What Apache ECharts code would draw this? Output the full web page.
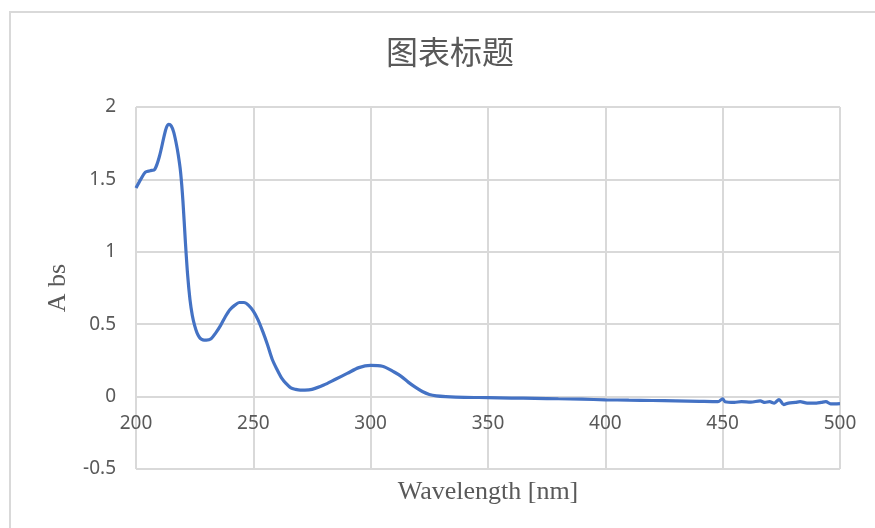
<!DOCTYPE html>
<html>
<head>
<meta charset="utf-8">
<script src="https://cdn.jsdelivr.net/npm/echarts@6/dist/echarts.min.js"></script>
<style>html,body{margin:0;padding:0;background:#fff;}#c{width:875px;height:528px;}</style>
</head>
<body>
<div id="c"></div>
<script>
var chartTitle = '图表标题';
var xName = 'Wavelength [nm]';
var yName = 'A bs';
var wavelengths = [200,202,204,206,208,210,212,213,214,215,216,217,218,219,220,221,222,223,224,225,226,227,228,229,230,232,234,236,238,240,242,244,246,248,250,252,254,256,258,260,262,264,266,268,270,272,275,280,285,290,295,300,305,310,313,316,319,322,325,328,332,340,350,360,370,380,390,400,410,420,430,440,448,450,451,455,458,462,466,468,470,472,474,476,478,481,483,486,490,492,494,496,500];
var absorbance = [1.44,1.50,1.55,1.56,1.57,1.66,1.80,1.86,1.88,1.87,1.83,1.76,1.67,1.55,1.35,1.08,0.84,0.67,0.56,0.49,0.44,0.41,0.395,0.39,0.39,0.40,0.44,0.49,0.55,0.60,0.63,0.65,0.65,0.63,0.59,0.53,0.45,0.36,0.26,0.19,0.13,0.09,0.06,0.05,0.045,0.045,0.05,0.08,0.12,0.16,0.20,0.215,0.21,0.17,0.14,0.10,0.065,0.035,0.015,0.005,0.0,-0.005,-0.007,-0.01,-0.012,-0.015,-0.018,-0.022,-0.025,-0.027,-0.03,-0.033,-0.035,-0.015,-0.035,-0.04,-0.035,-0.038,-0.03,-0.04,-0.035,-0.045,-0.02,-0.055,-0.045,-0.04,-0.035,-0.045,-0.045,-0.04,-0.035,-0.05,-0.048];

var seriesData = wavelengths.map(function (w, i) { return [w, absorbance[i]]; });

var chart = echarts.init(document.getElementById('c'));
chart.setOption({
  animation: false,
  backgroundColor: '#fff',
  title: {
    text: chartTitle,
    left: 381,
    top: 31,
    textStyle: { fontFamily: 'Noto Sans CJK SC', fontSize: 32, fontWeight: 'normal', color: '#595959' }
  },
  graphic: [
    { type: 'rect', shape: { x: 10, y: 12, width: 900, height: 600 }, style: { fill: 'none', stroke: '#d9d9d9', lineWidth: 2 }, silent: true, z: -1 },
    { type: 'text', x: 488, y: 492, style: { text: xName, font: '26px "Liberation Serif"', fill: '#595959', align: 'center', verticalAlign: 'middle' } }
  ],
  grid: { left: 136, right: 35, top: 107, bottom: 59 },
  xAxis: {
    type: 'value', min: 200, max: 500, interval: 50,
    offset: -72.4,
    axisLine: { show: true, onZero: false, lineStyle: { color: '#d9d9d9', width: 2 } },
    axisTick: { show: false },
    axisLabel: { color: '#595959', fontFamily: 'Noto Sans', fontSize: 19, margin: 17 },
    splitLine: { show: true, lineStyle: { color: '#d9d9d9', width: 2 } }
  },
  yAxis: {
    type: 'value', min: -0.5, max: 2, interval: 0.5,
    name: yName, nameLocation: 'middle', nameGap: 65, nameRotate: 90,
    nameTextStyle: { fontFamily: 'Liberation Serif', fontSize: 26, color: '#595959' },
    axisLine: { show: false },
    axisTick: { show: false },
    axisLabel: { color: '#595959', fontFamily: 'Noto Sans', fontSize: 19, margin: 20 },
    splitLine: { show: true, lineStyle: { color: '#d9d9d9', width: 2 } }
  },
  series: [{
    type: 'line',
    data: seriesData,
    showSymbol: false,
    smooth: 0.3,
    lineStyle: { color: '#4472C4', width: 3.2 },
    itemStyle: { color: '#4472C4' }
  }]
});
</script>
</body>
</html>
